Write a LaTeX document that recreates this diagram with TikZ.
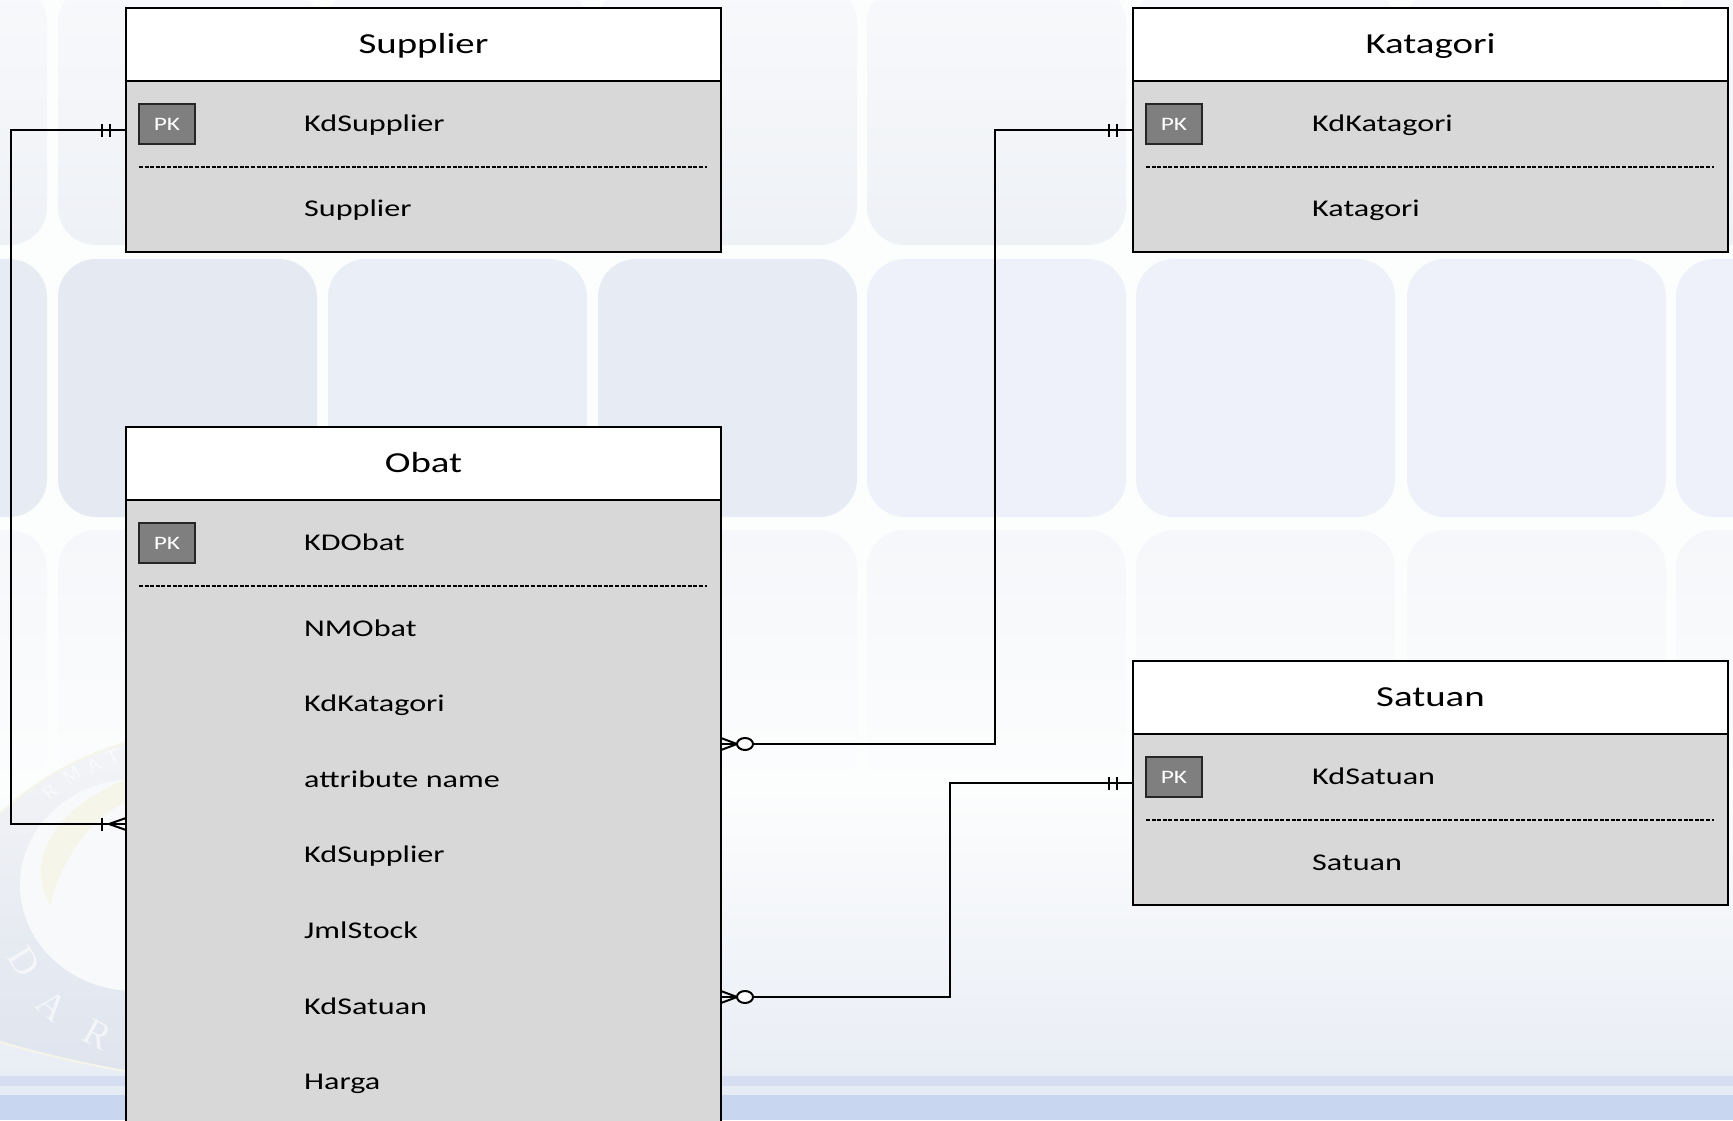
\documentclass[tikz,border=0pt]{standalone}
\usepackage{fontspec}
\setmainfont[FakeStretch=1.34]{Carlito}
\newfontfamily\sealfont{Liberation Serif}
\usetikzlibrary{positioning}

\definecolor{bodygrey}{HTML}{D8D8D8}
\definecolor{pkgrey}{HTML}{7F7F7F}
\definecolor{pagetop}{HTML}{FCFDFD}
\definecolor{pagelow}{HTML}{E9EDF5}
\definecolor{bandone}{HTML}{D6DFF2}
\definecolor{bandtwo}{HTML}{E6ECF6}
\definecolor{bandthree}{HTML}{C8D6F0}
\definecolor{rowonetop}{HTML}{F8F9FB}
\definecolor{rowonelow}{HTML}{EEF1F6}
\definecolor{rowthree}{HTML}{F5F7FA}
\definecolor{panela}{HTML}{E5EAF2}
\definecolor{panelb}{HTML}{EAEFF7}
\definecolor{panelc}{HTML}{E6EBF4}
\definecolor{paneld}{HTML}{EEF1F9}
\definecolor{sealfade}{HTML}{F3F4F7}
\definecolor{sealring}{HTML}{DFE4EE}
\definecolor{sealcore}{HTML}{F8F9FB}
\definecolor{sealgold}{HTML}{F6F5EA}

\tikzset{
  entityhead/.style={draw=black, line width=2pt, fill=white, anchor=north west, inner sep=0pt, outer sep=0pt,
    minimum width=595pt, minimum height=73pt, text height=23pt, text depth=6pt,
    font=\fontsize{29}{31}\selectfont},
  entitybody/.style={draw=black, line width=2pt, fill=bodygrey, inner sep=0pt, outer sep=0pt, minimum width=595pt},
  pkbox/.style={draw=black!85, line width=2pt, fill=pkgrey, text=white, inner sep=0pt,
    minimum width=56pt, minimum height=40pt, font=\fontsize{19}{20}\selectfont},
  attr/.style={anchor=base west, inner sep=0pt, font=\fontsize{24}{26}\selectfont},
  keyline/.style={line width=1.4pt, dash pattern=on 4pt off 1.6pt},
  conn/.style={line width=2pt},
  panel/.style={rounded corners=38pt},
  sealtext/.style={text=white, opacity=0.6, inner sep=0pt, font=\sealfont\fontsize{38}{40}\selectfont},
  sealsmall/.style={text=white, opacity=0.6, inner sep=0pt, font=\sealfont\fontsize{20}{22}\selectfont},
  pics/onlyone/.style={code={
    \draw[line width=2pt] (-16,-6.5) -- (-16,6.5);
    \draw[line width=2pt] (-24,-6.5) -- (-24,6.5);
  }},
  pics/zeromany/.style={code={
    \draw[line width=2pt] (0,-6) -- (16,0) -- (0,6);
    \draw[line width=2pt, fill=white] (24,0) ellipse (8 and 6);
  }},
  pics/onemany/.style={code={
    \draw[line width=2pt] (0,-6) -- (-17,0) -- (0,6);
    \draw[line width=2pt] (-24,-6.5) -- (-24,6.5);
  }},
}

\begin{document}
\begin{tikzpicture}[x=1pt,y=-1pt]

\useasboundingbox (0,0) rectangle (1733,1120);
\clip (0,0) rectangle (1733,1120);

% page and its panels
\fill[pagetop] (0,0) rectangle (1733,790);
\shade[top color=pagetop, bottom color=pagelow] (0,790) rectangle (1733,1076);
\foreach \x/\tint in {-212/panelc,58/panela,328/panelb,598/panelc,867/paneld,1136/paneld,1407/paneld,1676/paneld} {
  \shade[panel, top color=rowonetop, bottom color=rowonelow] (\x,-15) rectangle (\x+259,245);
  \fill[panel, \tint] (\x,259) rectangle (\x+259,517);
  \shade[panel, top color=rowthree, bottom color=pagetop] (\x,530) rectangle (\x+259,788);
}

% seal, mostly behind the Obat box
\shade[top color=sealfade, bottom color=sealring, draw=sealgold, line width=2pt]
  (-5,818) .. controls (40,775) and (90,752) .. (130,742) -- (130,1072)
  .. controls (90,1065) and (30,1052) .. (-5,1040) -- cycle;
\fill[sealcore] (135,885) ellipse (115 and 106);
\fill[sealgold] (50,905) .. controls (20,850) and (70,800) .. (130,778) -- (130,800)
  .. controls (95,815) and (65,850) .. (50,905) -- cycle;
\node[sealtext, rotate=-58] (seald) at (24,962) {D};
\node[sealtext, rotate=-40] (seala) at (52,1006) {A};
\node[sealtext, rotate=-28] (sealr) at (98,1034) {R};
\node[sealsmall, rotate=40] (sealone) at (50,792) {R};
\node[sealsmall, rotate=35] (sealtwo) at (72,775) {M};
\node[sealsmall, rotate=30] (sealthree) at (94,765) {A};
\node[sealsmall, rotate=25] (sealfour) at (113,757) {T};

\fill[bandone] (0,1076) rectangle (1733,1086);
\fill[bandtwo] (0,1086) rectangle (1733,1095);
\fill[bandthree] (0,1095) rectangle (1733,1120);

% entities
\node[entityhead] (supplierhead) at (126,8) {Supplier};
\node[entitybody, minimum height=171pt, below=0pt of supplierhead] (supplierbody) {};
\node[pkbox] (supplierpk) at (167,124) {PK};
\draw[keyline] (139,167) -- (707,167);
\node[attr] (supplierkey) at (304,131) {KdSupplier};
\node[attr] (suppliername) at (304,216) {Supplier};

\node[entityhead] (katagorihead) at (1133,8) {Katagori};
\node[entitybody, minimum height=171pt, below=0pt of katagorihead] (katagoribody) {};
\node[pkbox] (katagoripk) at (1174,124) {PK};
\draw[keyline] (1146,167) -- (1714,167);
\node[attr] (katagorikey) at (1312,131) {KdKatagori};
\node[attr] (katagoriname) at (1312,216) {Katagori};

\node[entityhead] (satuanhead) at (1133,661) {Satuan};
\node[entitybody, minimum height=171pt, below=0pt of satuanhead] (satuanbody) {};
\node[pkbox] (satuanpk) at (1174,777) {PK};
\draw[keyline] (1146,820) -- (1714,820);
\node[attr] (satuankey) at (1312,784) {KdSatuan};
\node[attr] (satuanname) at (1312,870) {Satuan};

\node[entityhead] (obathead) at (126,427) {Obat};
\node[entitybody, minimum height=680pt, below=0pt of obathead] (obatbody) {};
\node[pkbox] (obatpk) at (167,543) {PK};
\draw[keyline] (139,586) -- (707,586);
\node[attr] (obatkey) at (304,550) {KDObat};
\foreach \y/\name/\txt in {636/nmobat/NMObat, 711/kdkatagori/KdKatagori, 787/attrname/attribute name,
    862/kdsupplier/KdSupplier, 938/jmlstock/JmlStock, 1014/kdsatuan/KdSatuan, 1089/harga/Harga} {
  \node[attr] (\name) at (304,\y) {\txt};
}

% relations
\coordinate (supplierport) at (126,130);
\coordinate (katagoriport) at (1133,130);
\coordinate (satuanport) at (1133,783);
\coordinate (obatleft) at (126,824);
\coordinate (obatkat) at (721,744);
\coordinate (obatsat) at (721,997);
\coordinate (supplierbend) at (11,130);
\coordinate (katagoribend) at (995,744);
\coordinate (satuanbend) at (950,997);

\draw[conn] (supplierport) -- (supplierbend) |- (obatleft);
\draw[conn] (obatkat) -- (katagoribend) |- (katagoriport);
\draw[conn] (obatsat) -- (satuanbend) |- (satuanport);

\pic at (supplierport) {onlyone};
\pic at (katagoriport) {onlyone};
\pic at (satuanport) {onlyone};
\pic at (obatkat) {zeromany};
\pic at (obatsat) {zeromany};
\pic at (obatleft) {onemany};

\end{tikzpicture}
\end{document}
